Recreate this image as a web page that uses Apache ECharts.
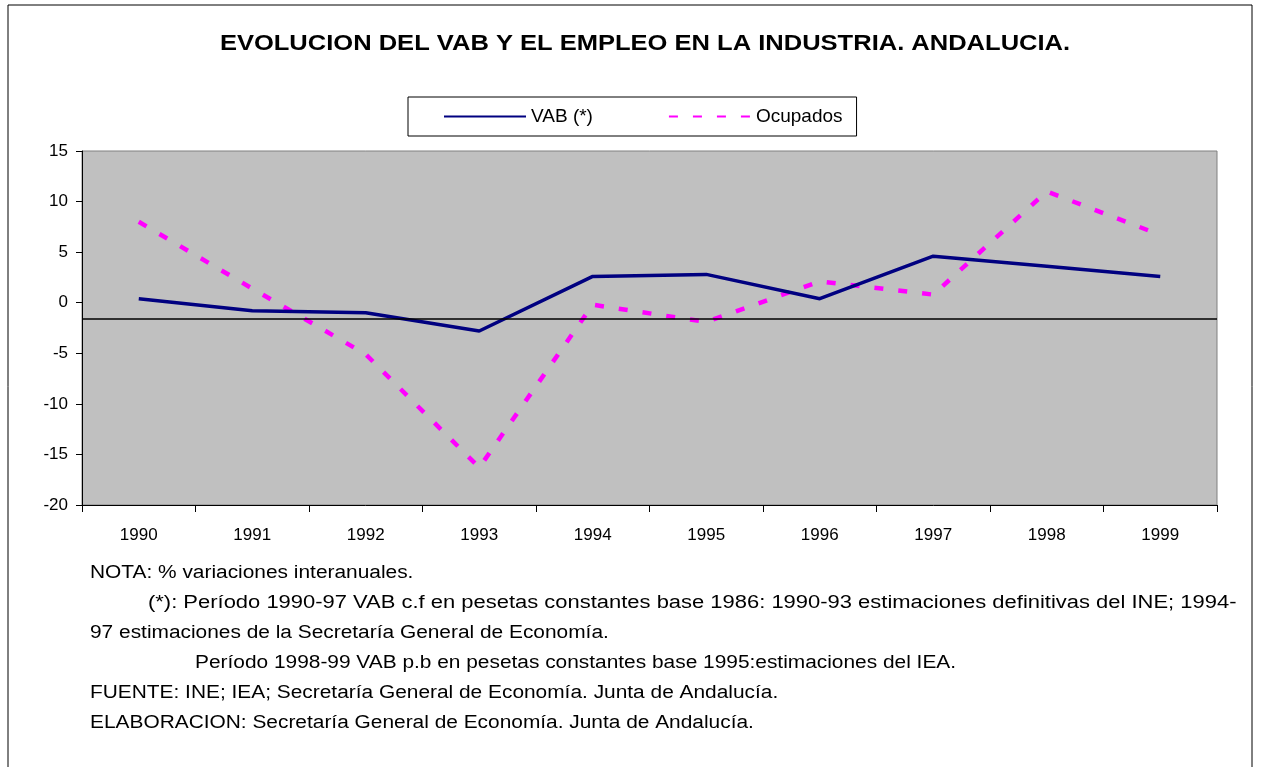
<!DOCTYPE html>
<html>
<head>
<meta charset="utf-8">
<title>Evolucion del VAB y el empleo en la industria. Andalucia</title>
<script src="https://cdn.jsdelivr.net/npm/echarts@6/dist/echarts.min.js"></script>
<style>
  html, body { margin: 0; padding: 0; background: #fff; }
  #chart { width: 1261px; height: 767px; }
</style>
</head>
<body>
<div id="chart"></div>
<script>
// años (eje x)
const years = ["1990", "1991", "1992", "1993", "1994", "1995", "1996", "1997", "1998", "1999"];
// % variaciones interanuales
const vab = [0.4, -0.8, -1.0, -2.8, 2.6, 2.8, 0.4, 4.6, 3.6, 2.6];
const ocupados = [8.0, 1.4, -5.1, -16.3, -0.2, -1.9, 2.1, 0.8, 11.0, 6.7];
// linea horizontal de referencia
const refLine = -1.6;
// notas al pie
const notes = [
  "NOTA: % variaciones interanuales.",
  "(*): Período 1990-97 VAB c.f en pesetas constantes base 1986: 1990-93 estimaciones definitivas del INE; 1994-",
  "97 estimaciones de la Secretaría General de Economía.",
  "Período 1998-99 VAB p.b en pesetas constantes base 1995:estimaciones del IEA.",
  "FUENTE: INE; IEA; Secretaría General de Economía. Junta de Andalucía.",
  "ELABORACION: Secretaría General de Economía. Junta de Andalucía."
];
const noteX = [90, 148, 90, 195, 90, 90];

const font = "Arial, 'Liberation Sans', sans-serif";
const myChart = echarts.init(document.getElementById("chart"));

let option = {
  animation: false,
  backgroundColor: "#fff",
  textStyle: { fontFamily: font, color: "#000" },
  legend: {
    left: 408,
    top: 97,
    padding: [10, 14, 10, 35],
    itemGap: 75,
    itemWidth: 82,
    itemHeight: 14,
    borderColor: "#000",
    borderWidth: 1,
    backgroundColor: "#fff",
    // solo la linea, sin simbolo
    itemStyle: { color: "rgba(0,0,0,0)", borderWidth: 0, opacity: 0 },
    textStyle: { fontSize: 19, color: "#000", fontFamily: font }
  },
  grid: {
    left: 82,
    top: 151,
    width: 1135,
    height: 354,
    show: true,
    backgroundColor: "#C0C0C0",
    borderColor: "#808080",
    borderWidth: 1
  },
  xAxis: {
    type: "category",
    data: years,
    boundaryGap: true,
    axisLine: { onZero: false, lineStyle: { color: "#000", width: 1 } },
    axisTick: { show: true, length: 7, lineStyle: { color: "#000" } },
    axisLabel: { fontSize: 17, color: "#000", margin: 22, fontFamily: font },
    splitLine: { show: false }
  },
  yAxis: {
    type: "value",
    min: -20,
    max: 15,
    interval: 5,
    axisLine: { show: true, lineStyle: { color: "#000", width: 1 } },
    axisTick: { show: true, length: 6, lineStyle: { color: "#000" } },
    axisLabel: { fontSize: 17, color: "#000", margin: 14, fontFamily: font },
    splitLine: { show: false }
  },
  series: [
    {
      name: "VAB (*)",
      type: "line",
      data: vab,
      symbol: "none",
      lineStyle: { color: "#000080", width: 3.5 },
      itemStyle: { color: "#000080" },
      markLine: {
        silent: true,
        symbol: "none",
        label: { show: false },
        lineStyle: { color: "#000", width: 1.5, type: "solid" },
        data: [{ yAxis: refLine }]
      },
      z: 3
    },
    {
      name: "Ocupados",
      type: "line",
      data: ocupados,
      symbol: "none",
      lineStyle: { color: "#FF00FF", width: 4.5, type: [9, 15] },
      itemStyle: { color: "#FF00FF" },
      z: 2
    }
  ],
  graphic: [
    {
      type: "rect",
      shape: { x: 8, y: 5, width: 1244, height: 780 },
      style: { fill: "none", stroke: "#000", lineWidth: 1 },
      silent: true,
      z: -1
    },
    {
      // titulo
      type: "text",
      x: 645,
      y: 44,
      scaleX: 1.16,
      style: {
        text: "EVOLUCION DEL VAB Y EL EMPLEO EN LA INDUSTRIA. ANDALUCIA.",
        fontSize: 22,
        fontWeight: "bold",
        fontFamily: font,
        fill: "#000",
        align: "center",
        verticalAlign: "middle"
      }
    }
  ].concat(notes.map((t, i) => ({
    type: "text",
    x: noteX[i],
    y: 573 + i * 30,
    scaleX: i === 1 ? 1.22 : 1.16,
    style: { text: t, fontSize: 18, fill: "#000", fontFamily: font, verticalAlign: "middle" }
  })))
};

myChart.setOption(option);
</script>
</body>
</html>
